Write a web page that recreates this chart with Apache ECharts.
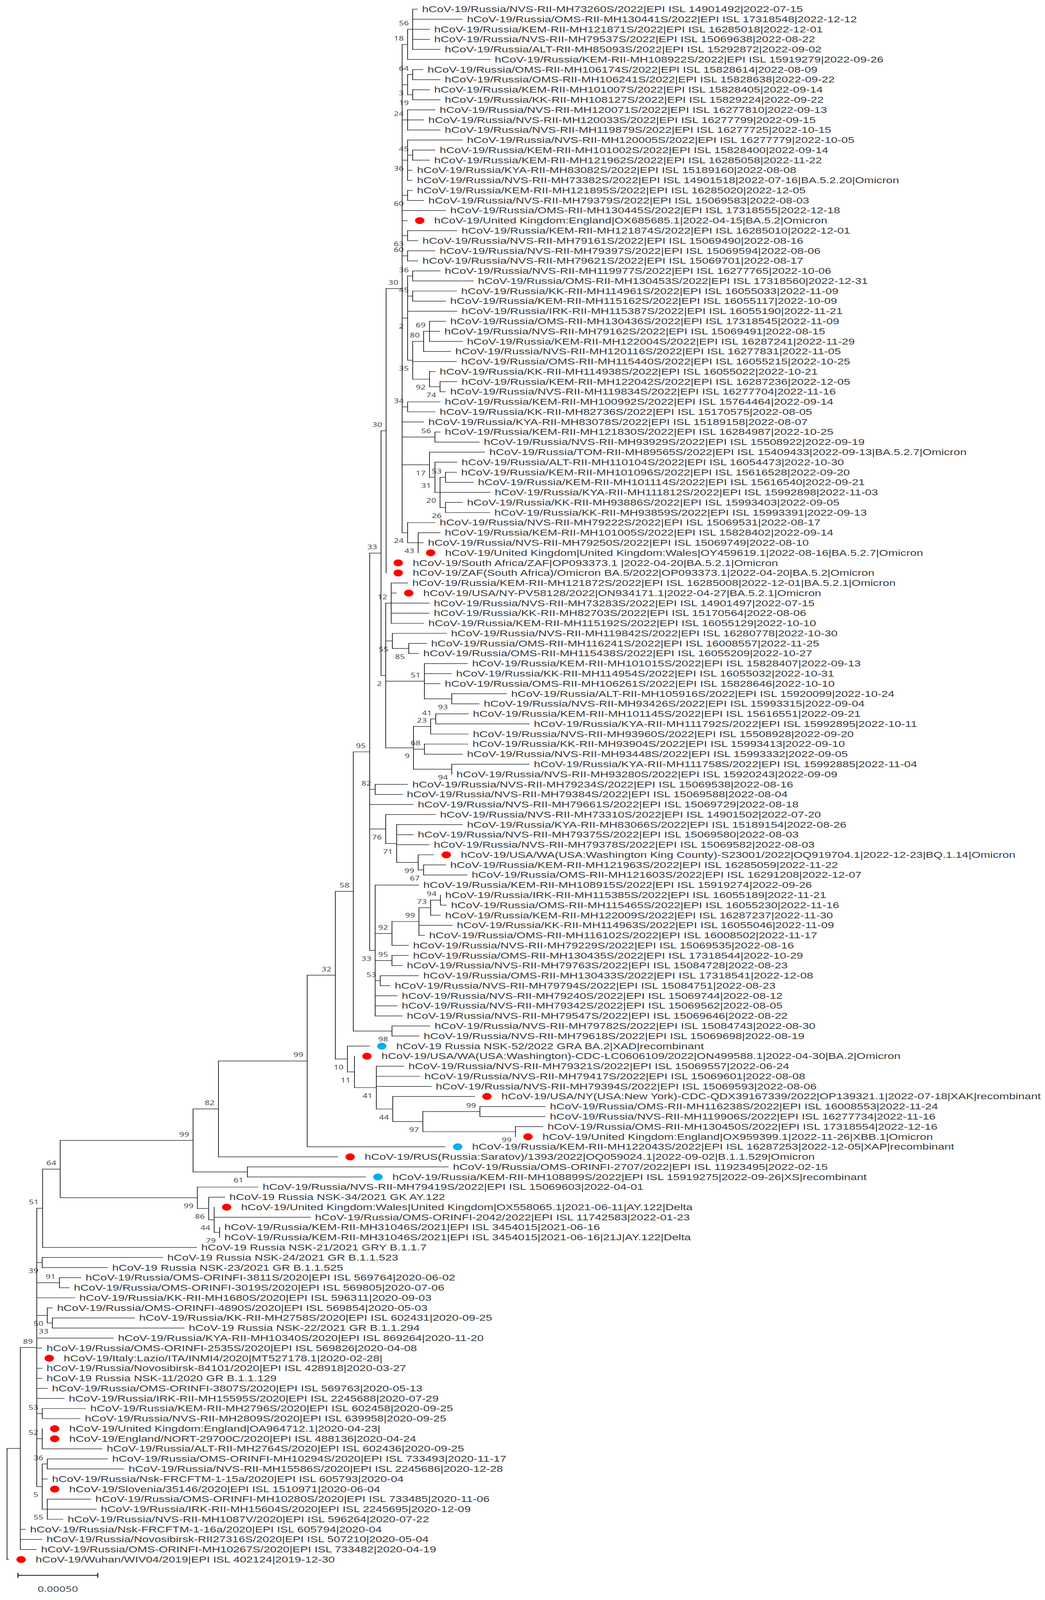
<!DOCTYPE html>
<html>
<head>
<meta charset="utf-8">
<title>hCoV-19 tree</title>
<script src="https://cdn.jsdelivr.net/npm/echarts@6/dist/echarts.min.js"></script>
<style>
  html, body { margin: 0; padding: 0; background: #fff; overflow: hidden; }
  #chart { width: 2674px; height: 5580px; transform-origin: 0 0; }
</style>
</head>
<body>
<div id="chart"></div>
<script>
// tips, top to bottom
var tipLabels = [
  'hCoV-19/Russia/NVS-RII-MH73260S/2022|EPI ISL 14901492|2022-07-15',
  'hCoV-19/Russia/OMS-RII-MH130441S/2022|EPI ISL 17318548|2022-12-12',
  'hCoV-19/Russia/KEM-RII-MH121871S/2022|EPI ISL 16285018|2022-12-01',
  'hCoV-19/Russia/NVS-RII-MH79537S/2022|EPI ISL 15069638|2022-08-22',
  'hCoV-19/Russia/ALT-RII-MH85093S/2022|EPI ISL 15292872|2022-09-02',
  'hCoV-19/Russia/KEM-RII-MH108922S/2022|EPI ISL 15919279|2022-09-26',
  'hCoV-19/Russia/OMS-RII-MH106174S/2022|EPI ISL 15828614|2022-08-09',
  'hCoV-19/Russia/OMS-RII-MH106241S/2022|EPI ISL 15828638|2022-09-22',
  'hCoV-19/Russia/KEM-RII-MH101007S/2022|EPI ISL 15828405|2022-09-14',
  'hCoV-19/Russia/KK-RII-MH108127S/2022|EPI ISL 15829224|2022-09-22',
  'hCoV-19/Russia/NVS-RII-MH120071S/2022|EPI ISL 16277810|2022-09-13',
  'hCoV-19/Russia/NVS-RII-MH120033S/2022|EPI ISL 16277799|2022-09-15',
  'hCoV-19/Russia/NVS-RII-MH119879S/2022|EPI ISL 16277725|2022-10-15',
  'hCoV-19/Russia/NVS-RII-MH120005S/2022|EPI ISL 16277779|2022-10-05',
  'hCoV-19/Russia/KEM-RII-MH101002S/2022|EPI ISL 15828400|2022-09-14',
  'hCoV-19/Russia/KEM-RII-MH121962S/2022|EPI ISL 16285058|2022-11-22',
  'hCoV-19/Russia/KYA-RII-MH83082S/2022|EPI ISL 15189160|2022-08-08',
  'hCoV-19/Russia/NVS-RII-MH73382S/2022|EPI ISL 14901518|2022-07-16|BA.5.2.20|Omicron',
  'hCoV-19/Russia/KEM-RII-MH121895S/2022|EPI ISL 16285020|2022-12-05',
  'hCoV-19/Russia/NVS-RII-MH79379S/2022|EPI ISL 15069583|2022-08-03',
  'hCoV-19/Russia/OMS-RII-MH130445S/2022|EPI ISL 17318555|2022-12-18',
  'hCoV-19/United Kingdom:England|OX685685.1|2022-04-15|BA.5.2|Omicron',
  'hCoV-19/Russia/KEM-RII-MH121874S/2022|EPI ISL 16285010|2022-12-01',
  'hCoV-19/Russia/NVS-RII-MH79161S/2022|EPI ISL 15069490|2022-08-16',
  'hCoV-19/Russia/NVS-RII-MH79397S/2022|EPI ISL 15069594|2022-08-06',
  'hCoV-19/Russia/NVS-RII-MH79621S/2022|EPI ISL 15069701|2022-08-17',
  'hCoV-19/Russia/NVS-RII-MH119977S/2022|EPI ISL 16277765|2022-10-06',
  'hCoV-19/Russia/OMS-RII-MH130453S/2022|EPI ISL 17318560|2022-12-31',
  'hCoV-19/Russia/KK-RII-MH114961S/2022|EPI ISL 16055033|2022-11-09',
  'hCoV-19/Russia/KEM-RII-MH115162S/2022|EPI ISL 16055117|2022-10-09',
  'hCoV-19/Russia/IRK-RII-MH115387S/2022|EPI ISL 16055190|2022-11-21',
  'hCoV-19/Russia/OMS-RII-MH130436S/2022|EPI ISL 17318545|2022-11-09',
  'hCoV-19/Russia/NVS-RII-MH79162S/2022|EPI ISL 15069491|2022-08-15',
  'hCoV-19/Russia/KEM-RII-MH122004S/2022|EPI ISL 16287241|2022-11-29',
  'hCoV-19/Russia/NVS-RII-MH120116S/2022|EPI ISL 16277831|2022-11-05',
  'hCoV-19/Russia/OMS-RII-MH115440S/2022|EPI ISL 16055215|2022-10-25',
  'hCoV-19/Russia/KK-RII-MH114938S/2022|EPI ISL 16055022|2022-10-21',
  'hCoV-19/Russia/KEM-RII-MH122042S/2022|EPI ISL 16287236|2022-12-05',
  'hCoV-19/Russia/NVS-RII-MH119834S/2022|EPI ISL 16277704|2022-11-16',
  'hCoV-19/Russia/KEM-RII-MH100992S/2022|EPI ISL 15764464|2022-09-14',
  'hCoV-19/Russia/KK-RII-MH82736S/2022|EPI ISL 15170575|2022-08-05',
  'hCoV-19/Russia/KYA-RII-MH83078S/2022|EPI ISL 15189158|2022-08-07',
  'hCoV-19/Russia/KEM-RII-MH121830S/2022|EPI ISL 16284987|2022-10-25',
  'hCoV-19/Russia/NVS-RII-MH93929S/2022|EPI ISL 15508922|2022-09-19',
  'hCoV-19/Russia/TOM-RII-MH89565S/2022|EPI ISL 15409433|2022-09-13|BA.5.2.7|Omicron',
  'hCoV-19/Russia/ALT-RII-MH110104S/2022|EPI ISL 16054473|2022-10-30',
  'hCoV-19/Russia/KEM-RII-MH101096S/2022|EPI ISL 15616528|2022-09-20',
  'hCoV-19/Russia/KEM-RII-MH101114S/2022|EPI ISL 15616540|2022-09-21',
  'hCoV-19/Russia/KYA-RII-MH111812S/2022|EPI ISL 15992898|2022-11-03',
  'hCoV-19/Russia/KK-RII-MH93886S/2022|EPI ISL 15993403|2022-09-05',
  'hCoV-19/Russia/KK-RII-MH93859S/2022|EPI ISL 15993391|2022-09-13',
  'hCoV-19/Russia/NVS-RII-MH79222S/2022|EPI ISL 15069531|2022-08-17',
  'hCoV-19/Russia/KEM-RII-MH101005S/2022|EPI ISL 15828402|2022-09-14',
  'hCoV-19/Russia/NVS-RII-MH79250S/2022|EPI ISL 15069749|2022-08-10',
  'hCoV-19/United Kingdom|United Kingdom:Wales|OY459619.1|2022-08-16|BA.5.2.7|Omicron',
  'hCoV-19/South Africa/ZAF|OP093373.1 |2022-04-20|BA.5.2.1|Omicron',
  'hCoV-19/ZAF(South Africa)/Omicron BA.5/2022|OP093373.1|2022-04-20|BA.5.2|Omicron',
  'hCoV-19/Russia/KEM-RII-MH121872S/2022|EPI ISL 16285008|2022-12-01|BA.5.2.1|Omicron',
  'hCoV-19/USA/NY-PV58128/2022|ON934171.1|2022-04-27|BA.5.2.1|Omicron',
  'hCoV-19/Russia/NVS-RII-MH73283S/2022|EPI ISL 14901497|2022-07-15',
  'hCoV-19/Russia/KK-RII-MH82703S/2022|EPI ISL 15170564|2022-08-06',
  'hCoV-19/Russia/KEM-RII-MH115192S/2022|EPI ISL 16055129|2022-10-10',
  'hCoV-19/Russia/NVS-RII-MH119842S/2022|EPI ISL 16280778|2022-10-30',
  'hCoV-19/Russia/OMS-RII-MH116241S/2022|EPI ISL 16008557|2022-11-25',
  'hCoV-19/Russia/OMS-RII-MH115438S/2022|EPI ISL 16055209|2022-10-27',
  'hCoV-19/Russia/KEM-RII-MH101015S/2022|EPI ISL 15828407|2022-09-13',
  'hCoV-19/Russia/KK-RII-MH114954S/2022|EPI ISL 16055032|2022-10-31',
  'hCoV-19/Russia/OMS-RII-MH106261S/2022|EPI ISL 15828646|2022-10-10',
  'hCoV-19/Russia/ALT-RII-MH105916S/2022|EPI ISL 15920099|2022-10-24',
  'hCoV-19/Russia/NVS-RII-MH93426S/2022|EPI ISL 15993315|2022-09-04',
  'hCoV-19/Russia/KEM-RII-MH101145S/2022|EPI ISL 15616551|2022-09-21',
  'hCoV-19/Russia/KYA-RII-MH111792S/2022|EPI ISL 15992895|2022-10-11',
  'hCoV-19/Russia/NVS-RII-MH93960S/2022|EPI ISL 15508928|2022-09-20',
  'hCoV-19/Russia/KK-RII-MH93904S/2022|EPI ISL 15993413|2022-09-10',
  'hCoV-19/Russia/NVS-RII-MH93448S/2022|EPI ISL 15993332|2022-09-05',
  'hCoV-19/Russia/KYA-RII-MH111758S/2022|EPI ISL 15992885|2022-11-04',
  'hCoV-19/Russia/NVS-RII-MH93280S/2022|EPI ISL 15920243|2022-09-09',
  'hCoV-19/Russia/NVS-RII-MH79234S/2022|EPI ISL 15069538|2022-08-16',
  'hCoV-19/Russia/NVS-RII-MH79384S/2022|EPI ISL 15069588|2022-08-04',
  'hCoV-19/Russia/NVS-RII-MH79661S/2022|EPI ISL 15069729|2022-08-18',
  'hCoV-19/Russia/NVS-RII-MH73310S/2022|EPI ISL 14901502|2022-07-20',
  'hCoV-19/Russia/KYA-RII-MH83066S/2022|EPI ISL 15189154|2022-08-26',
  'hCoV-19/Russia/NVS-RII-MH79375S/2022|EPI ISL 15069580|2022-08-03',
  'hCoV-19/Russia/NVS-RII-MH79378S/2022|EPI ISL 15069582|2022-08-03',
  'hCoV-19/USA/WA(USA:Washington King County)-S23001/2022|OQ919704.1|2022-12-23|BQ.1.14|Omicron',
  'hCoV-19/Russia/KEM-RII-MH121963S/2022|EPI ISL 16285059|2022-11-22',
  'hCoV-19/Russia/OMS-RII-MH121603S/2022|EPI ISL 16291208|2022-12-07',
  'hCoV-19/Russia/KEM-RII-MH108915S/2022|EPI ISL 15919274|2022-09-26',
  'hCoV-19/Russia/IRK-RII-MH115385S/2022|EPI ISL 16055189|2022-11-21',
  'hCoV-19/Russia/OMS-RII-MH115465S/2022|EPI ISL 16055230|2022-11-16',
  'hCoV-19/Russia/KEM-RII-MH122009S/2022|EPI ISL 16287237|2022-11-30',
  'hCoV-19/Russia/KK-RII-MH114963S/2022|EPI ISL 16055046|2022-11-09',
  'hCoV-19/Russia/OMS-RII-MH116102S/2022|EPI ISL 16008502|2022-11-17',
  'hCoV-19/Russia/NVS-RII-MH79229S/2022|EPI ISL 15069535|2022-08-16',
  'hCoV-19/Russia/OMS-RII-MH130435S/2022|EPI ISL 17318544|2022-10-29',
  'hCoV-19/Russia/NVS-RII-MH79763S/2022|EPI ISL 15084728|2022-08-23',
  'hCoV-19/Russia/OMS-RII-MH130433S/2022|EPI ISL 17318541|2022-12-08',
  'hCoV-19/Russia/NVS-RII-MH79794S/2022|EPI ISL 15084751|2022-08-23',
  'hCoV-19/Russia/NVS-RII-MH79240S/2022|EPI ISL 15069744|2022-08-12',
  'hCoV-19/Russia/NVS-RII-MH79342S/2022|EPI ISL 15069562|2022-08-05',
  'hCoV-19/Russia/NVS-RII-MH79547S/2022|EPI ISL 15069646|2022-08-22',
  'hCoV-19/Russia/NVS-RII-MH79782S/2022|EPI ISL 15084743|2022-08-30',
  'hCoV-19/Russia/NVS-RII-MH79618S/2022|EPI ISL 15069698|2022-08-19',
  'hCoV-19 Russia NSK-52/2022 GRA BA.2|XAD|recombinant',
  'hCoV-19/USA/WA(USA:Washington)-CDC-LC0606109/2022|ON499588.1|2022-04-30|BA.2|Omicron',
  'hCoV-19/Russia/NVS-RII-MH79321S/2022|EPI ISL 15069557|2022-06-24',
  'hCoV-19/Russia/NVS-RII-MH79417S/2022|EPI ISL 15069601|2022-08-08',
  'hCoV-19/Russia/NVS-RII-MH79394S/2022|EPI ISL 15069593|2022-08-06',
  'hCoV-19/USA/NY(USA:New York)-CDC-QDX39167339/2022|OP139321.1|2022-07-18|XAK|recombinant',
  'hCoV-19/Russia/OMS-RII-MH116238S/2022|EPI ISL 16008553|2022-11-24',
  'hCoV-19/Russia/NVS-RII-MH119906S/2022|EPI ISL 16277734|2022-11-16',
  'hCoV-19/Russia/OMS-RII-MH130450S/2022|EPI ISL 17318554|2022-12-16',
  'hCoV-19/United Kingdom:England|OX959399.1|2022-11-26|XBB.1|Omicron',
  'hCoV-19/Russia/KEM-RII-MH122043S/2022|EPI ISL 16287253|2022-12-05|XAP|recombinant',
  'hCoV-19/RUS(Russia:Saratov)/1393/2022|OQ059024.1|2022-09-02|B.1.1.529|Omicron',
  'hCoV-19/Russia/OMS-ORINFI-2707/2022|EPI ISL 11923495|2022-02-15',
  'hCoV-19/Russia/KEM-RII-MH108899S/2022|EPI ISL 15919275|2022-09-26|XS|recombinant',
  'hCoV-19/Russia/NVS-RII-MH79419S/2022|EPI ISL 15069603|2022-04-01',
  'hCoV-19 Russia NSK-34/2021 GK AY.122',
  'hCoV-19/United Kingdom:Wales|United Kingdom|OX558065.1|2021-06-11|AY.122|Delta',
  'hCoV-19/Russia/OMS-ORINFI-2042/2022|EPI ISL 11742583|2022-01-23',
  'hCoV-19/Russia/KEM-RII-MH31046S/2021|EPI ISL 3454015|2021-06-16',
  'hCoV-19/Russia/KEM-RII-MH31046S/2021|EPI ISL 3454015|2021-06-16|21J|AY.122|Delta',
  'hCoV-19 Russia NSK-21/2021 GRY B.1.1.7',
  'hCoV-19 Russia NSK-24/2021 GR B.1.1.523',
  'hCoV-19 Russia NSK-23/2021 GR B.1.1.525',
  'hCoV-19/Russia/OMS-ORINFI-3811S/2020|EPI ISL 569764|2020-06-02',
  'hCoV-19/Russia/OMS-ORINFI-3019S/2020|EPI ISL 569805|2020-07-06',
  'hCoV-19/Russia/KK-RII-MH1680S/2020|EPI ISL 596311|2020-09-03',
  'hCoV-19/Russia/OMS-ORINFI-4890S/2020|EPI ISL 569854|2020-05-03',
  'hCoV-19/Russia/KK-RII-MH2758S/2020|EPI ISL 602431|2020-09-25',
  'hCoV-19 Russia NSK-22/2021 GR B.1.1.294',
  'hCoV-19/Russia/KYA-RII-MH10340S/2020|EPI ISL 869264|2020-11-20',
  'hCoV-19/Russia/OMS-ORINFI-2535S/2020|EPI ISL 569826|2020-04-08',
  'hCoV-19/Italy:Lazio/ITA/INMI4/2020|MT527178.1|2020-02-28|',
  'hCoV-19/Russia/Novosibirsk-84101/2020|EPI ISL 428918|2020-03-27',
  'hCoV-19 Russia NSK-11/2020 GR B.1.1.129',
  'hCoV-19/Russia/OMS-ORINFI-3807S/2020|EPI ISL 569763|2020-05-13',
  'hCoV-19/Russia/IRK-RII-MH15595S/2020|EPI ISL 2245688|2020-07-29',
  'hCoV-19/Russia/KEM-RII-MH2796S/2020|EPI ISL 602458|2020-09-25',
  'hCoV-19/Russia/NVS-RII-MH2809S/2020|EPI ISL 639958|2020-09-25',
  'hCoV-19/United Kingdom:England|OA964712.1|2020-04-23|',
  'hCoV-19/England/NORT-29700C/2020|EPI ISL 488136|2020-04-24',
  'hCoV-19/Russia/ALT-RII-MH2764S/2020|EPI ISL 602436|2020-09-25',
  'hCoV-19/Russia/OMS-ORINFI-MH10294S/2020|EPI ISL 733493|2020-11-17',
  'hCoV-19/Russia/NVS-RII-MH15586S/2020|EPI ISL 2245686|2020-12-28',
  'hCoV-19/Russia/Nsk-FRCFTM-1-15a/2020|EPI ISL 605793|2020-04',
  'hCoV-19/Slovenia/35146/2020|EPI ISL 1510971|2020-06-04',
  'hCoV-19/Russia/OMS-ORINFI-MH10280S/2020|EPI ISL 733485|2020-11-06',
  'hCoV-19/Russia/IRK-RII-MH15604S/2020|EPI ISL 2245695|2020-12-09',
  'hCoV-19/Russia/NVS-RII-MH1087V/2020|EPI ISL 596264|2020-07-22',
  'hCoV-19/Russia/Nsk-FRCFTM-1-16a/2020|EPI ISL 605794|2020-04',
  'hCoV-19/Russia/Novosibirsk-RII27316S/2020|EPI ISL 507210|2020-05-04',
  'hCoV-19/Russia/OMS-ORINFI-MH10267S/2020|EPI ISL 733482|2020-04-19',
  'hCoV-19/Wuhan/WIV04/2019|EPI ISL 402124|2019-12-30'
];

// distance from the left edge. 204 units = 0.00050 on the scale bar
var tipDepth = [
  1068,1183,1099,1099,1126,1254,1082,1126,1099,1126,
  1113,1084,1126,1183,1113,1099,1055,1055,1055,1084,
  1140,1042,1169,1069,1113,1069,1126,1211,1168,1140,
  1169,1140,1125,1183,1153,1168,1113,1169,1140,1126,
  1113,1084,1126,1226,1240,1169,1168,1211,1254,1183,
  1253,1113,1126,1083,1070,987,987,1043,1014,1098,
  1098,1084,1142,1091,1071,1196,1155,1126,1296,1226,
  1198,1354,1198,1197,1183,1354,1156,1043,1029,1057,
  1114,1183,1057,1098,1110,1140,1195,1071,1127,1142,
  1127,1157,1086,1045,1045,1029,1071,998,1016,1016,
  1029,1100,1072,945,907,1033,1074,1103,1214,1395,
  1395,1389,1319,1139,864,1147,935,660,575,548,
  794,562,562,503,416,275,207,177,191,134,
  344,471,290,107,94,107,107,121,164,219,
  205,108,108,261,275,317,121,108,232,246,
  161,65,107,93,22
];

var tipParent = [
  'n1','n1','n1','n1','n1','n2','n3','n3','n4','n4',
  'n6','n6','n6','n8','n7','n7','n8','n8','n9','n9',
  'a','a','n10','n10','n11','n11','n12','n12','n13','n13',
  'n14','n16','n16','n16','n17','n19','n20','n21','n21','n22',
  'n22','a','n23','n23','n24','n25','n27','n27','n26','n28',
  'n28','n29','n30','n30','n30','b','b','f','f','f',
  'f','f','g','h','h','i','i','i','j','j',
  'o','o','l','m','m','nn','nn','r','r','p',
  's','t','t','t','u','v','v','w','ac','ac',
  'ab','aa','aa','x','y','y','z','z','w','w',
  'w','ae','ae','ag','ah','ai','ai','ai','aj','al',
  'al','am','am','an','ao','aq','aq','ar','as','at',
  'at','au','au','aw','ay','ay','az','az','av','ba',
  'bb','bb','av','av','av','av','av','av','av','bc',
  'bc','bd','bd','bd','bf','bf','be','be','bg','bg',
  'bg','bi','bi','bi','root'
];

var redTips = [21,54,55,56,58,84,104,108,112,114,119,134,141,142,147,154];
var blueTips = [103,113,116];

// internal nodes
var nodeIds = [
  'n1','n2','n3','n4','n5','n6','n7','n8','n9','n10',
  'n11','n12','n13','n14','n16','n17','n19','n20','n21','n22',
  'n23','n24','n25','n26','n27','n28','n29','n30','a','b',
  'c','e','f','g','h','i','j','k','l','o',
  'm','nn','r','s','t','u','v','w','x','aa',
  'ab','ac','y','z','p','ad','ae','af','ag','ah',
  'ai','aj','ak','al','am','an','ao','ap','aq','bh',
  'ar','as','at','au','aw','av','ay','az','ba','bb',
  'bc','bd','be','bf','bg','bi','root'
];
var nodeDepth = [
  1056,1043,1056,1056,1043,1043,1056,1043,1043,1043,
  1043,1056,1056,1043,1099,1084,1056,1099,1126,1043,
  1113,1099,1113,1126,1140,1140,1043,1070,1029,988,
  975,987,1001,1004,1046,1086,1156,1058,1102,1115,
  1086,1156,960,987,1015,1070,1084,960,1003,1072,
  1102,1127,1003,973,946,904,1003,858,889,907,
  963,1005,1082,1228,1319,786,559,494,633,154,
  505,534,548,562,109,94,108,152,121,134,
  108,108,108,121,121,52,18
];
var nodeParent = [
  'n2','a','n5','n5','a','a','n8','a','a','a',
  'a','n14','n14','a','n17','n19','n14','n19','n20','a',
  'a','a','n24','n25','n26','n26','a','n29','b','c',
  'p','c','e','e','g','e','i','e','k','l',
  'k','k','p','p','s','t','u','p','w','x',
  'aa','ab','w','w','ad','af','ad','an','af','ag',
  'ah','ai','aj','ak','ak','ao','ap','bh','ap','aw',
  'bh','ar','as','at','av','bi','av','av','av','ba',
  'av','av','av','be','be','root',null
];
var nodeSupport = [
  56,18,64,19,3,24,45,36,60,63,
  60,36,45,2,69,80,35,92,74,34,
  56,17,31,20,53,26,24,43,30,30,
  33,2,12,55,85,51,93,9,23,41,
  68,94,82,76,71,99,67,33,92,99,
  73,94,95,53,95,58,98,32,10,11,
  41,44,97,99,99,99,82,99,61,64,
  99,86,44,79,51,89,39,91,50,33,
  53,52,5,36,55,null,null
];
// support values printed under the branch instead of over it
var supportBelow = ['n4','n5','n8','n9','n10','n14','n19','n20','n21','n24',
  'n25','n26','n28','n29','n30','e','g','h','j','k','nn','s','t','u','v','w',
  'ae','ag','ah','ai','aj','ak','am','aq','ar','as','at','au','ay','ba','bb',
  'be','bg'];

var scaleBarValue = '0.00050';
var scaleBarStart = 46;
var scaleBarLength = 204;

var firstRowY = 32, rowHeight = 35.11, pageHeight = 5580, pageWidth = 2674;

// the browser caps the window height at 4096, squeeze the tall chart so the whole tree stays on the page
var chartBox = document.getElementById('chart');
var fitY = Math.min(1, window.innerHeight / pageHeight);
if (fitY < 1) chartBox.style.transform = 'scaleY(' + fitY + ')';

// rows of the nodes: middle of first and last child, like the tree program does
var childRows = {};
tipParent.forEach(function(id, i) {
  (childRows[id] = childRows[id] || []).push(i);
});
var kids = {};
nodeIds.forEach(function(id, i) {
  var par = nodeParent[i];
  if (par) (kids[par] = kids[par] || []).push(id);
});
var nodeRow = {};
function rowOf(id) {
  if (nodeRow[id] !== undefined) return nodeRow[id];
  var rows = (childRows[id] || []).slice();
  (kids[id] || []).forEach(function(k) { rows.push(rowOf(k)); });
  nodeRow[id] = (Math.min.apply(null, rows) + Math.max.apply(null, rows)) / 2;
  return nodeRow[id];
}
var depthOf = {};
nodeIds.forEach(function(id, i) { depthOf[id] = nodeDepth[i]; rowOf(id); });

// branches as [x1, row1, x2, row2]
var branches = [];
nodeIds.forEach(function(id, i) {
  var par = nodeParent[i];
  var rows = (childRows[id] || []).concat((kids[id] || []).map(rowOf));
  branches.push([depthOf[id], Math.min.apply(null, rows), depthOf[id], Math.max.apply(null, rows)]);
  if (par) branches.push([depthOf[par], nodeRow[id], depthOf[id], nodeRow[id]]);
});
tipParent.forEach(function(par, i) {
  if (tipDepth[i] > depthOf[par]) branches.push([depthOf[par], i, tipDepth[i], i]);
});

var barRow = (5494 - firstRowY) / rowHeight;
var barTextRow = (5541 - firstRowY) / rowHeight;
var barTick = 0.2;
var barLines = [
  [scaleBarStart, barRow, scaleBarStart + scaleBarLength, barRow],
  [scaleBarStart, barRow - barTick, scaleBarStart, barRow + barTick],
  [scaleBarStart + scaleBarLength, barRow - barTick, scaleBarStart + scaleBarLength, barRow + barTick]
];

function lineItem(width) {
  return function(params, api) {
    var a = api.coord([api.value(0), api.value(1)]);
    var b = api.coord([api.value(2), api.value(3)]);
    return {
      type: 'line',
      shape: { x1: a[0], y1: a[1], x2: b[0], y2: b[1] },
      style: { stroke: '#2b2b2b', lineWidth: width, lineCap: 'square' }
    };
  };
}

var marked = redTips.concat(blueTips);
var tipData = tipLabels.map(function(name, i) {
  return {
    name: name,
    value: [tipDepth[i], i],
    label: { distance: marked.indexOf(i) > -1 ? 69 : 12 }
  };
});
var supportData = [];
nodeIds.forEach(function(id, i) {
  if (nodeSupport[i] === null) return;
  supportData.push({
    name: String(nodeSupport[i]),
    value: [nodeDepth[i], nodeRow[id]],
    label: { offset: [0, supportBelow.indexOf(id) > -1 ? 28 : -22] }
  });
});
function dots(list) {
  return list.map(function(i) { return [tipDepth[i], i]; });
}

var chart = echarts.init(chartBox, null, { renderer: 'svg' });
chart.setOption({
  animation: false,
  backgroundColor: '#fff',
  grid: { left: 0, right: 0, top: 0, bottom: 0 },
  xAxis: { type: 'value', min: 0, max: pageWidth, show: false },
  yAxis: {
    type: 'value',
    inverse: true,
    min: -firstRowY / rowHeight,
    max: (pageHeight - firstRowY) / rowHeight,
    show: false
  },
  series: [
    {
      type: 'custom',
      silent: true,
      clip: false,
      renderItem: lineItem(2),
      encode: { x: [0, 2], y: [1, 3] },
      data: branches
    },
    {
      type: 'custom',
      silent: true,
      clip: false,
      renderItem: lineItem(3),
      encode: { x: [0, 2], y: [1, 3] },
      data: barLines
    },
    {
      type: 'scatter',
      silent: true,
      symbolSize: 24,
      symbolOffset: [32, 0],
      itemStyle: { color: '#ff0000', opacity: 1 },
      data: dots(redTips)
    },
    {
      type: 'scatter',
      silent: true,
      symbolSize: 24,
      symbolOffset: [32, 0],
      itemStyle: { color: '#00aeef', opacity: 1 },
      data: dots(blueTips)
    },
    {
      type: 'scatter',
      silent: true,
      symbolSize: 0,
      label: {
        show: true,
        position: 'right',
        formatter: function(p) { return p.name; },
        fontFamily: '"Liberation Sans"',
        fontSize: 29.8,
        color: '#000'
      },
      data: tipData
    },
    {
      type: 'scatter',
      silent: true,
      symbolSize: 0,
      label: {
        show: true,
        position: 'left',
        distance: 10,
        formatter: function(p) { return p.name; },
        fontFamily: '"Noto Sans"',
        fontSize: 22,
        color: '#111'
      },
      data: supportData
    },
    {
      type: 'scatter',
      silent: true,
      symbolSize: 0,
      label: {
        show: true,
        position: 'inside',
        formatter: function(p) { return p.name; },
        fontFamily: '"Noto Sans"',
        fontSize: 28,
        color: '#111'
      },
      data: [{ name: scaleBarValue, value: [scaleBarStart + scaleBarLength / 2, barTextRow] }]
    }
  ]
});
</script>
</body>
</html>
